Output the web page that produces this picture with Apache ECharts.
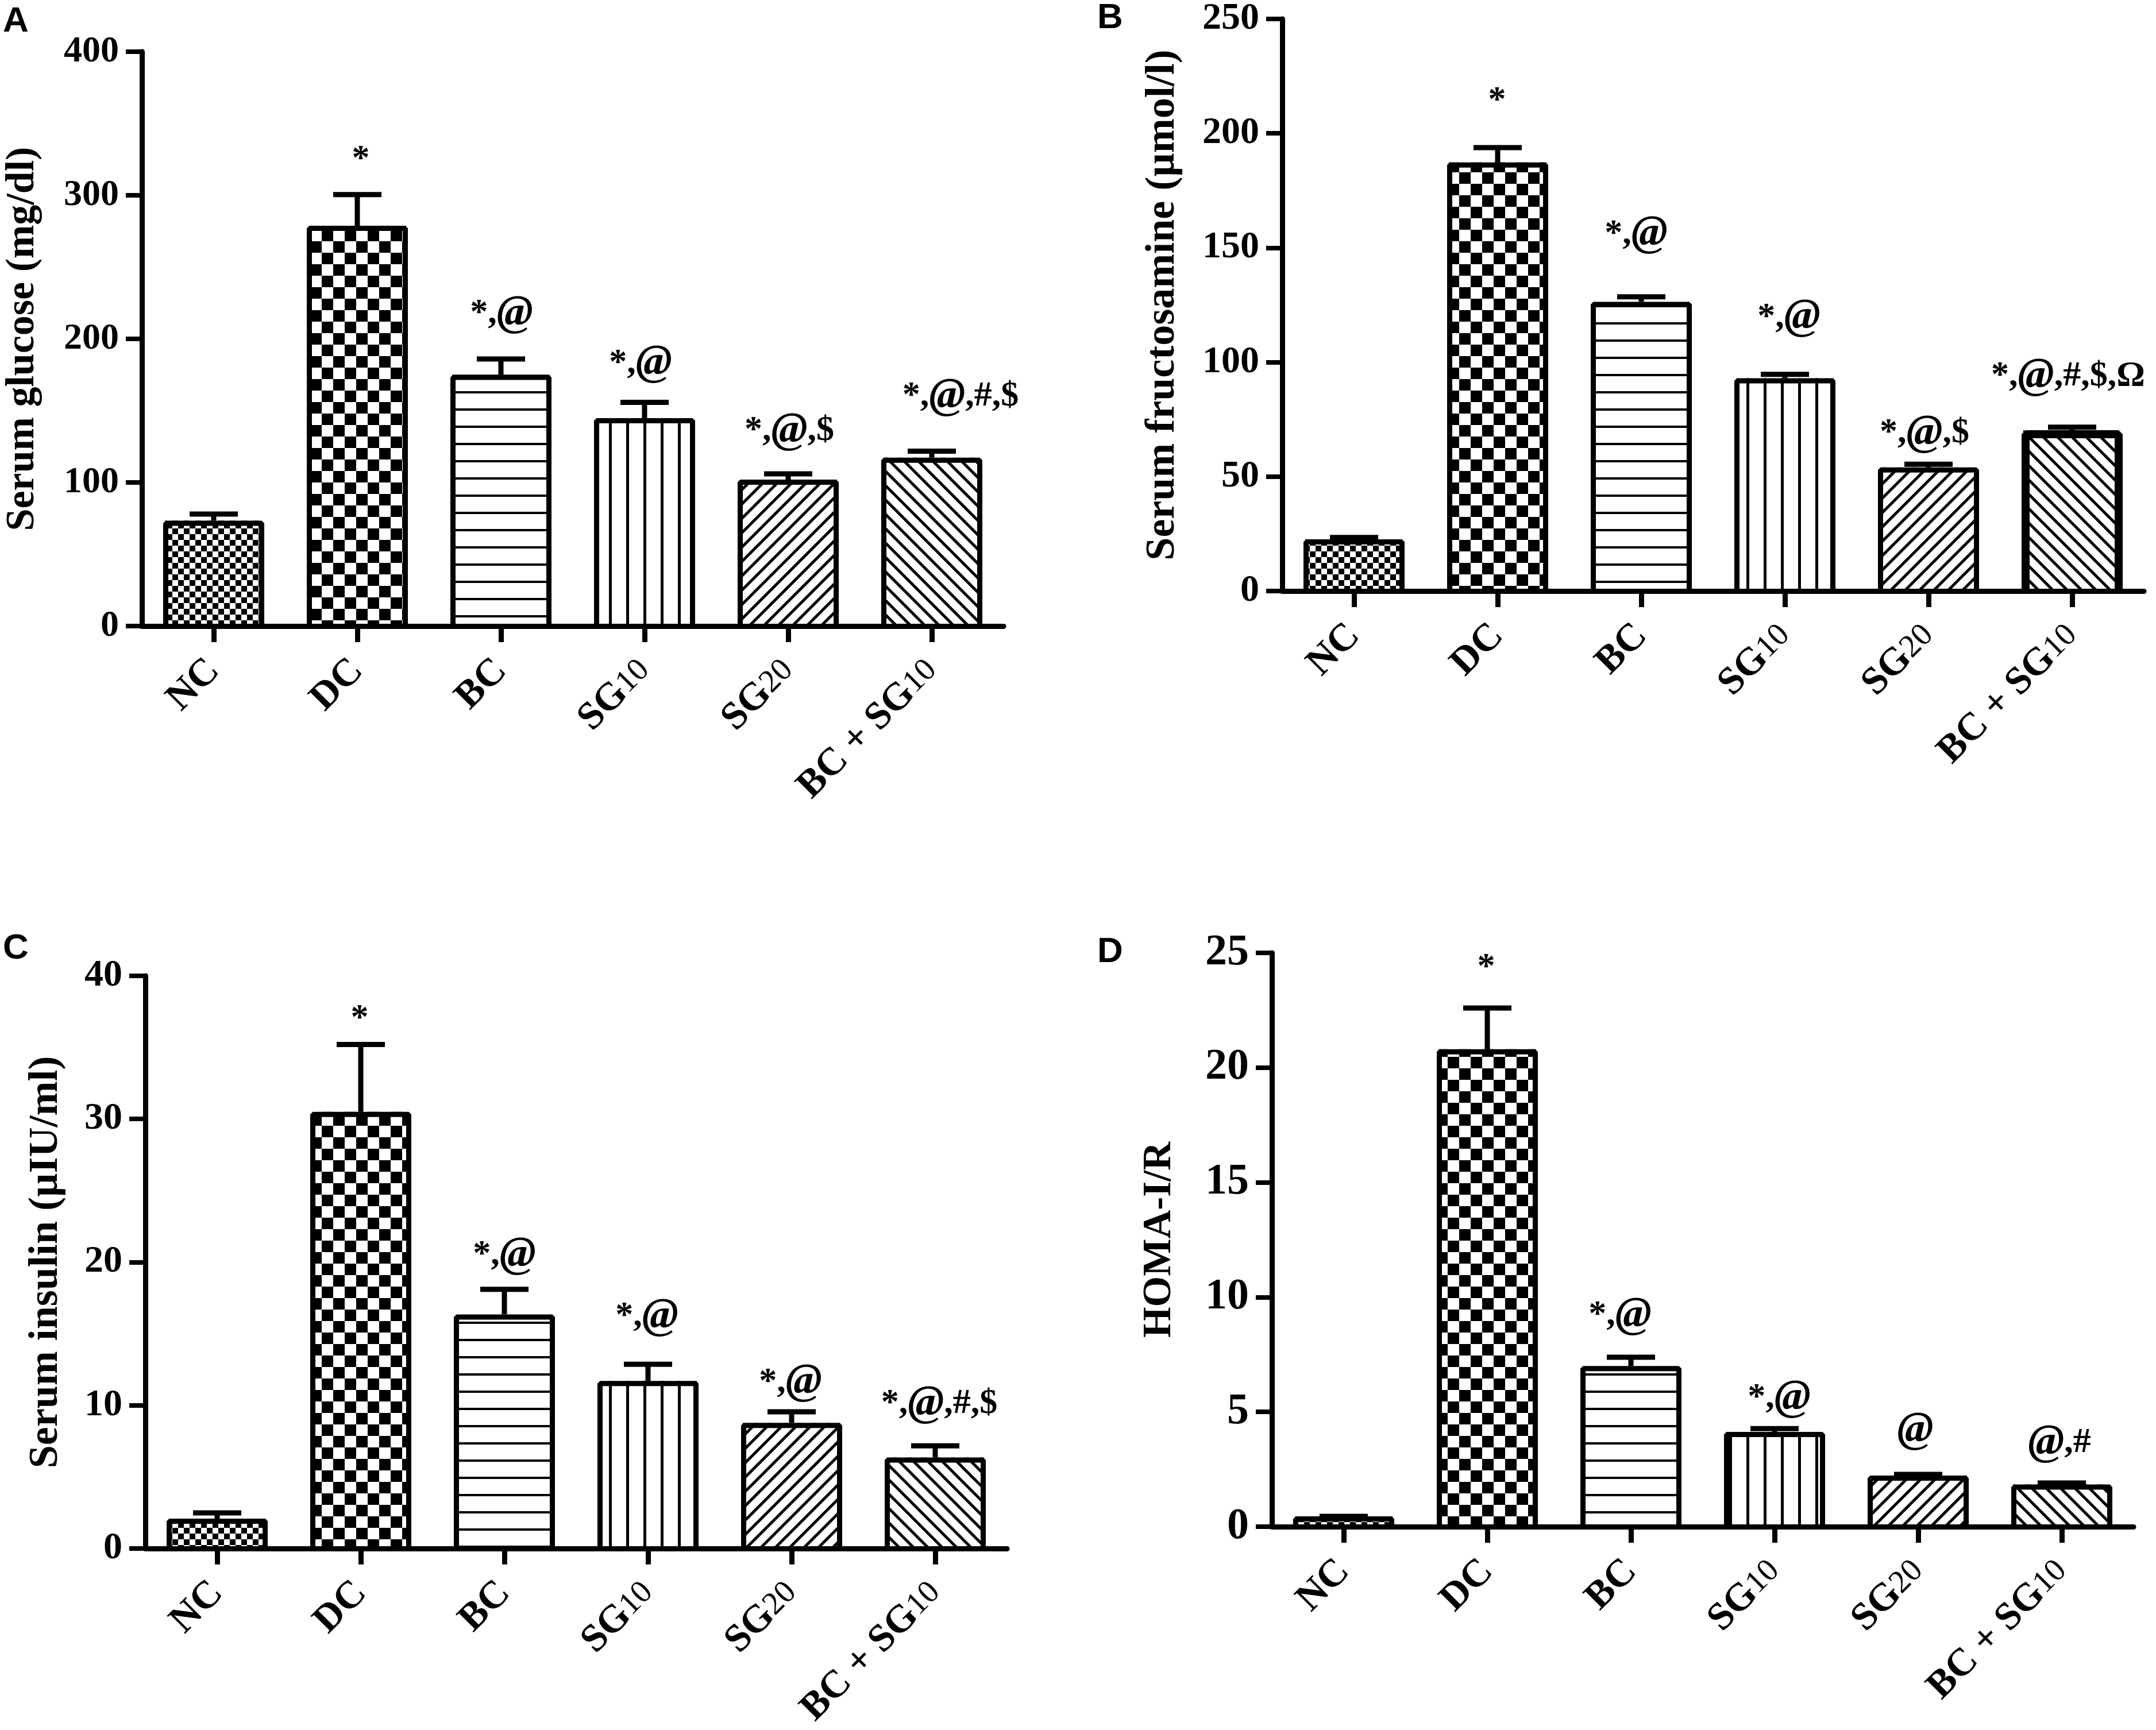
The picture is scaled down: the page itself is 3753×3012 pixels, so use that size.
<!DOCTYPE html>
<html>
<head>
<meta charset="utf-8">
<title>Serum markers</title>
<script src="https://cdn.jsdelivr.net/npm/echarts@6/dist/echarts.min.js"></script>
<style>
html, body { margin: 0; padding: 0; background: #fff; }
#main { width: 3753px; height: 3012px; }
</style>
</head>
<body>
<div id="main"></div>
<script>
var categories = ['NC', 'DC', 'BC', 'SG10', 'SG20', 'BC + SG10'];

var glucoseMean = [73.4, 278.8, 175, 144.8, 102, 117.3];
var glucoseTop = [78, 300.5, 186, 155.8, 106, 121.8];
var glucoseNotes = ['', '*', '*,@', '*,@', '*,@,$', '*,@,#,$'];
var glucoseNoteY = [0, 325, 217.6, 183, 136, 160];

var fructosamineMean = [22.6, 187.3, 126.4, 93, 54, 70.3];
var fructosamineTop = [23.4, 193.8, 128.6, 94.7, 55.4, 71.6];
var fructosamineNotes = ['', '*', '*,@', '*,@', '*,@,$', '*,@,#,$,Ω'];
var fructosamineNoteY = [0, 214, 156, 119.6, 69, 93.8];

var insulinMean = [2.08, 30.5, 16.35, 11.7, 8.77, 6.35];
var insulinTop = [2.48, 35.2, 18.1, 12.86, 9.54, 7.17];
var insulinNotes = ['', '*', '*,@', '*,@', '*,@', '*,@,#,$'];
var insulinNoteY = [0, 37, 20.5, 16.2, 11.6, 10.1];

var homaMean = [0.45, 20.8, 7.0, 4.13, 2.23, 1.84];
var homaTop = [0.45, 22.6, 7.38, 4.27, 2.28, 1.9];
var homaNotes = ['', '*', '*,@', '*,@', '@', '@,#'];
var homaNoteY = [0, 24.35, 9.2, 5.6, 4.2, 3.65];

var SERIF = '"Liberation Serif", "Times New Roman", serif';

// fill patterns, one per group
function tile(w, h, draw) {
    var c = document.createElement('canvas');
    c.width = w;
    c.height = h;
    var ctx = c.getContext('2d');
    ctx.fillStyle = '#fff';
    ctx.fillRect(0, 0, w, h);
    ctx.fillStyle = '#000';
    ctx.strokeStyle = '#000';
    draw(ctx);
    return { image: c, repeat: 'repeat' };
}
function checker(n) {
    return tile(n * 2, n * 2, function (ctx) {
        ctx.fillRect(0, 0, n, n);
        ctx.fillRect(n, n, n, n);
    });
}
function diagonal(n, up, phase) {
    return tile(n, n, function (ctx) {
        ctx.lineWidth = 5;
        for (var k = -2; k <= 2; k++) {
            var s = phase + k * n;
            ctx.beginPath();
            if (up) {
                ctx.moveTo(s + 5, -5);
                ctx.lineTo(s - n - 5, n + 5);
            } else {
                ctx.moveTo(s - 5, -5);
                ctx.lineTo(s + n + 5, n + 5);
            }
            ctx.stroke();
        }
    });
}
var fills = [
    checker(10),
    checker(20),
    tile(30, 30, function (ctx) { ctx.fillRect(0, 21, 30, 4); }),
    tile(30, 30, function (ctx) { ctx.fillRect(10, 0, 5, 30); }),
    diagonal(25, true, 19),
    diagonal(25, false, 21)
];

var panels = [
    { letter: 'A', letterLeft: 5, letterTop: 7, left: 247, top: 90, height: 1000, max: 400, step: 100,
      name: 'Serum glucose (mg/dl)', nameSize: 70, nameGap: 172, tickSize: 64,
      mean: glucoseMean, top2: glucoseTop, notes: glucoseNotes, noteY: glucoseNoteY, noteDx: [0, 6, 1, -7, 2, 50] },
    { letter: 'B', letterLeft: 1910, letterTop: 1, left: 2232, top: 32, height: 997, max: 250, step: 50,
      name: 'Serum fructosamine (µmol/l)', nameSize: 72, nameGap: 172, tickSize: 66, thickLast: true,
      mean: fructosamineMean, top2: fructosamineTop, notes: fructosamineNotes, noteY: fructosamineNoteY, noteDx: [0, -1, -9, 7, -7, -7] },
    { letter: 'C', letterLeft: 5, letterTop: 1621, left: 253, top: 1699, height: 998, max: 40, step: 10,
      name: 'Serum insulin (µIU/ml)', nameSize: 72, nameGap: 137, tickSize: 66,
      mean: insulinMean, top2: insulinTop, notes: insulinNotes, noteY: insulinNoteY, noteDx: [0, -2, 0, -2, -2, 7] },
    { letter: 'D', letterLeft: 1910, letterTop: 1627, left: 2214, top: 1659, height: 999, max: 25, step: 5,
      name: 'HOMA-I/R', nameSize: 69, nameGap: 160, tickSize: 76,
      mean: homaMean, top2: homaTop, notes: homaNotes, noteY: homaNoteY, noteDx: [0, -2, -19, 8, -5, -4] }
];

var noteRich = {
    t: { fontFamily: SERIF, fontWeight: 'bold', fontSize: 62, color: '#000', textBorderWidth: 0 },
    a: { fontFamily: SERIF, fontWeight: 'bold', fontStyle: 'italic', fontSize: 76, color: '#000', textBorderWidth: 0 }
};
function noteText(s) {
    return s.split('@').map(function (part) {
        return part ? '{t|' + part + '}' : '';
    }).join('{a|@}');
}

function catLabel(v) {
    var m = /^(.*?)(\d+)$/.exec(v);
    return m ? '{b|' + m[1] + '}{n|' + m[2] + '}' : '{b|' + v + '}';
}

var option = {
    animation: false,
    backgroundColor: '#fff',
    title: [],
    grid: [],
    xAxis: [],
    yAxis: [],
    series: []
};

panels.forEach(function (p, i) {
    option.title.push({
        text: p.letter,
        left: p.letterLeft,
        top: p.letterTop,
        padding: 0,
        textStyle: { fontFamily: '"Liberation Sans", Arial, sans-serif', fontWeight: 'bold', fontSize: 62, color: '#000' }
    });
    option.grid.push({ left: p.left, top: p.top, width: 1500, height: p.height, containLabel: false });
    option.xAxis.push({
        type: 'category',
        gridIndex: i,
        data: categories,
        z: 10,
        axisLine: { show: true, lineStyle: { color: '#000', width: 9 } },
        axisTick: { show: true, alignWithLabel: true, length: 28, lineStyle: { color: '#000', width: 9 } },
        splitLine: { show: false },
        axisLabel: {
            interval: 0,
            rotate: 45,
            margin: 68,
            color: '#000',
            formatter: catLabel,
            rich: {
                b: { fontFamily: SERIF, fontWeight: 'bold', fontSize: 68, color: '#000' },
                n: { fontFamily: SERIF, fontWeight: 'normal', fontSize: 56, color: '#000' }
            }
        }
    });
    option.yAxis.push({
        type: 'value',
        gridIndex: i,
        min: 0,
        max: p.max,
        interval: p.step,
        z: 10,
        name: p.name,
        nameLocation: 'middle',
        nameRotate: 90,
        nameGap: p.nameGap,
        nameTextStyle: { fontFamily: SERIF, fontWeight: 'bold', fontSize: p.nameSize, color: '#000' },
        axisLine: { show: true, lineStyle: { color: '#000', width: 9 } },
        axisTick: { show: true, length: 28, lineStyle: { color: '#000', width: 8 } },
        splitLine: { show: false },
        axisLabel: { margin: 40, fontFamily: SERIF, fontWeight: 'bold', fontSize: p.tickSize, color: '#000' }
    });

    option.series.push({
        type: 'bar',
        xAxisIndex: i,
        yAxisIndex: i,
        barWidth: 170,
        z: 2,
        data: p.mean.map(function (v, k) {
            return { value: v, itemStyle: { color: fills[k] } };
        })
    });

    // bar outline (open at the axis) and upper error bar
    option.series.push({
        type: 'custom',
        xAxisIndex: i,
        yAxisIndex: i,
        z: 3,
        data: p.top2.map(function (v, k) { return [k, p.mean[k], v]; }),
        renderItem: function (params, api) {
            var k = api.value(0);
            var base = api.coord([k, 0]);
            var from = api.coord([k, api.value(1)]);
            var to = api.coord([k, api.value(2)]);
            var w = p.thickLast && k === 5 ? 14 : 9;
            var hw = 88 - w / 2;
            var st = { stroke: '#000', lineWidth: 9, fill: null };
            return {
                type: 'group',
                children: [
                    { type: 'line', shape: { x1: from[0], y1: from[1], x2: to[0], y2: to[1] }, style: st },
                    { type: 'line', shape: { x1: to[0] - 42, y1: to[1], x2: to[0] + 42, y2: to[1] }, style: st },
                    {
                        type: 'polyline',
                        shape: { points: [
                            [from[0] - hw, base[1]],
                            [from[0] - hw, from[1] + w / 2],
                            [from[0] + hw, from[1] + w / 2],
                            [from[0] + hw, base[1]]
                        ] },
                        style: { stroke: '#000', lineWidth: w, fill: null, lineJoin: 'bevel' }
                    }
                ]
            };
        }
    });

    // significance marks
    option.series.push({
        type: 'scatter',
        xAxisIndex: i,
        yAxisIndex: i,
        symbolSize: 1,
        itemStyle: { color: 'rgba(0,0,0,0)', opacity: 1 },
        z: 4,
        data: p.notes.map(function (s, k) {
            return {
                value: [k, p.noteY[k]],
                label: {
                    show: s !== '',
                    position: 'inside',
                    offset: [p.noteDx[k], 0],
                    opacity: 1,
                    textBorderWidth: 0,
                    formatter: noteText(s),
                    rich: noteRich
                }
            };
        }).filter(function (d, k) { return p.notes[k] !== ''; })
    });
});

var myChart = echarts.init(document.getElementById('main'));
myChart.setOption(option);
</script>
</body>
</html>
